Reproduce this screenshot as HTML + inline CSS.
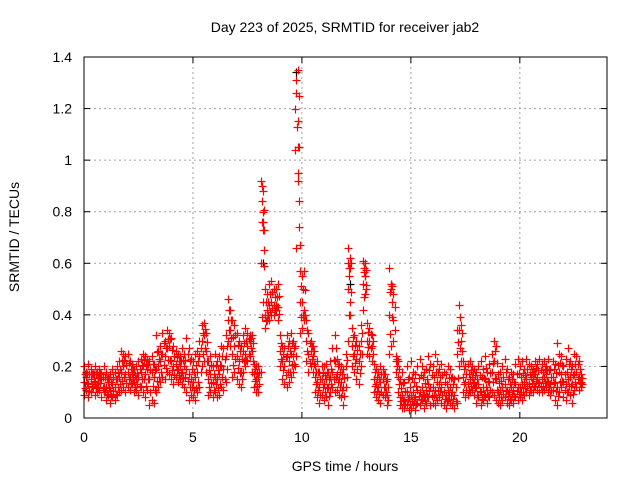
<!DOCTYPE html>
<html><head><meta charset="utf-8"><style>
body{margin:0;background:#fff}
svg{display:block;font-family:"Liberation Sans",sans-serif}
</style></head><body>
<svg id="chart" width="640" height="480" viewBox="0 0 640 480">
<rect width="640" height="480" fill="#fff"/>
<text x="345" y="32" font-size="14" text-anchor="middle">Day 223 of 2025, SRMTID for receiver jab2</text>
<text x="19" y="237" font-size="14" text-anchor="middle" transform="rotate(-90 19 237)">SRMTID / TECUs</text>
<text x="345" y="471" font-size="14" text-anchor="middle">GPS time / hours</text>
<g id="grid"></g>
<g id="marks"></g>
<rect x="84" y="57" width="523" height="361" fill="none" stroke="#000" stroke-width="1"/>
</svg>
<script>
const xTicks=[0,5,10,15,20];
const yTicks=[0,0.2,0.4,0.6,0.8,1,1.2,1.4];
const yTickLabels=["0","0.2","0.4","0.6","0.8","1","1.2","1.4"];
const hours=[0,0.1,0.2,0.3,0.4,0.5,0.6,0.7,0.8,0.9,1,1.1,1.2,1.3,1.4,1.5,1.6,1.7,1.8,1.9,2,2.1,2.2,2.3,2.4,2.5,2.6,2.7,2.8,2.9,3,3.1,3.2,3.3,3.4,3.5,3.6,3.7,3.8,3.9,4,4.1,4.2,4.3,4.4,4.5,4.6,4.7,4.8,4.9,5,5.1,5.2,5.3,5.4,5.5,5.6,5.7,5.8,5.9,6,6.1,6.2,6.3,6.4,6.5,6.6,6.7,6.8,6.9,7,7.1,7.2,7.3,7.4,7.5,7.6,7.7,7.8,7.9,8,8.1,8.2,8.3,8.4,8.5,8.6,8.7,8.8,8.9,9,9.1,9.2,9.3,9.4,9.5,9.6,9.7,9.8,9.9,10,10.1,10.2,10.3,10.4,10.5,10.6,10.7,10.8,10.9,11,11.1,11.2,11.3,11.4,11.5,11.6,11.7,11.8,11.9,12,12.1,12.2,12.3,12.4,12.5,12.6,12.7,12.8,12.9,13,13.1,13.2,13.3,13.4,13.5,13.6,13.7,13.8,13.9,14,14.1,14.2,14.3,14.4,14.5,14.6,14.7,14.8,14.9,15,15.1,15.2,15.3,15.4,15.5,15.6,15.7,15.8,15.9,16,16.1,16.2,16.3,16.4,16.5,16.6,16.7,16.8,16.9,17,17.1,17.2,17.3,17.4,17.5,17.6,17.7,17.8,17.9,18,18.1,18.2,18.3,18.4,18.5,18.6,18.7,18.8,18.9,19,19.1,19.2,19.3,19.4,19.5,19.6,19.7,19.8,19.9,20,20.1,20.2,20.3,20.4,20.5,20.6,20.7,20.8,20.9,21,21.1,21.2,21.3,21.4,21.5,21.6,21.7,21.8,21.9,22,22.1,22.2,22.3,22.4,22.5,22.6,22.7,22.8];
const lowVals=[.09,.11,.08,.10,.12,.09,.10,.11,.08,.10,.07,.09,.06,.08,.07,.09,.10,.11,.12,.10,.12,.11,.13,.10,.11,.09,.12,.10,.08,.11,.05,.07,.06,.10,.12,.14,.16,.15,.18,.17,.15,.13,.16,.14,.15,.13,.12,.10,.07,.09,.08,.07,.10,.12,.20,.22,.18,.09,.10,.08,.10,.08,.09,.12,.11,.14,.30,.28,.16,.18,.15,.13,.12,.18,.20,.22,.24,.18,.12,.10,.10,.18,.45,.35,.38,.38,.40,.40,.42,.38,.20,.15,.13,.12,.14,.16,.18,.20,.95,.33,.35,.38,.22,.18,.20,.18,.10,.08,.06,.09,.07,.08,.05,.10,.12,.10,.11,.09,.08,.05,.12,.30,.40,.20,.18,.15,.13,.20,.42,.48,.25,.24,.22,.10,.08,.07,.06,.09,.08,.05,.25,.28,.30,.18,.10,.05,.04,.04,.05,.03,.04,.05,.03,.06,.05,.07,.04,.06,.08,.05,.06,.05,.07,.08,.06,.05,.04,.07,.06,.05,.04,.06,.20,.22,.10,.08,.09,.10,.11,.09,.06,.08,.05,.07,.09,.06,.08,.10,.09,.07,.06,.05,.07,.08,.06,.05,.07,.06,.08,.07,.08,.07,.09,.10,.09,.11,.10,.12,.11,.10,.10,.11,.12,.10,.09,.11,.07,.05,.10,.12,.08,.07,.10,.09,.06,.11,.12,.11,.12];
const midVals=[.14,.16,.13,.15,.17,.14,.13,.16,.15,.12,.12,.14,.11,.13,.12,.15,.16,.18,.20,.17,.18,.16,.17,.14,.15,.16,.18,.20,.17,.19,.15,.18,.16,.19,.20,.22,.25,.24,.27,.28,.22,.20,.21,.19,.20,.18,.20,.19,.17,.15,.14,.16,.18,.24,.30,.32,.26,.15,.17,.14,.16,.15,.17,.20,.19,.24,.38,.34,.25,.28,.24,.22,.18,.26,.25,.28,.30,.26,.17,.15,.16,.60,.73,.40,.42,.44,.45,.44,.44,.43,.26,.22,.20,.24,.22,.25,.24,.28,1.15,.45,.45,.42,.30,.25,.26,.24,.16,.14,.12,.15,.13,.15,.12,.16,.18,.22,.17,.15,.14,.12,.20,.50,.58,.28,.25,.23,.22,.30,.52,.55,.30,.30,.28,.15,.13,.12,.14,.15,.12,.09,.40,.50,.38,.22,.16,.08,.09,.07,.10,.08,.09,.10,.08,.11,.10,.12,.09,.11,.13,.12,.12,.11,.14,.13,.12,.10,.09,.11,.12,.10,.09,.25,.34,.30,.16,.14,.13,.15,.16,.14,.12,.13,.10,.12,.15,.11,.14,.18,.22,.15,.10,.11,.12,.13,.11,.10,.12,.11,.13,.12,.12,.13,.14,.15,.13,.16,.15,.17,.16,.14,.15,.16,.17,.14,.13,.16,.14,.12,.18,.17,.14,.13,.15,.16,.13,.17,.18,.16,.14];
const highVals=[.20,.18,.21,.19,.17,.20,.18,.19,.17,.20,.18,.16,.17,.19,.18,.20,.22,.26,.25,.24,.25,.22,.21,.19,.20,.22,.23,.25,.24,.23,.22,.24,.21,.32,.26,.28,.33,.30,.34,.33,.31,.28,.26,.25,.24,.27,.25,.31,.27,.23,.22,.25,.26,.30,.36,.37,.33,.22,.24,.20,.25,.22,.24,.28,.27,.32,.46,.42,.38,.36,.33,.30,.28,.32,.35,.33,.32,.32,.21,.20,.20,.92,.88,.50,.48,.52,.53,.50,.50,.52,.32,.28,.27,.32,.30,.33,.30,1.04,1.35,.57,.55,.57,.38,.33,.30,.28,.20,.22,.18,.20,.20,.21,.18,.22,.27,.32,.23,.21,.20,.19,.25,.66,.62,.35,.32,.30,.28,.36,.61,.60,.37,.35,.32,.21,.19,.18,.20,.19,.17,.15,.58,.52,.48,.24,.22,.15,.18,.14,.20,.16,.22,.18,.17,.20,.23,.20,.18,.19,.24,.21,.20,.25,.22,.19,.21,.18,.17,.20,.19,.16,.15,.34,.44,.36,.22,.20,.21,.22,.20,.19,.18,.20,.22,.19,.24,.18,.21,.25,.30,.28,.17,.18,.20,.23,.19,.16,.18,.17,.21,.23,.20,.22,.19,.23,.21,.20,.19,.22,.21,.23,.21,.22,.20,.23,.19,.22,.21,.29,.25,.24,.20,.23,.27,.22,.20,.25,.24,.22,.17];
const spikeHours=[9.7,9.72,9.75,9.78,9.8,9.82,9.85,9.88,9.9,8.15,8.18,8.2,8.22,8.25,8.28,12.1,12.15,12.2,12.85,12.9,12.95,14.1,14.15];
const spikeVals=[1.2,1.26,1.31,1.13,1.05,0.92,0.84,0.74,0.67,0.9,0.84,0.8,0.76,0.73,0.65,0.6,0.55,0.45,0.58,0.55,0.5,0.52,0.45];
const blackHours=[9.75,8.2,12.2];
const blackVals=[1.34,0.6,0.52];

const L=84,R=607,T=57,B=418,XMAX=24,YMAX=1.4;
const xs=h=>L+h/XMAX*(R-L);
const ys=v=>B-v/YMAX*(B-T);
const NS="http://www.w3.org/2000/svg";
const grid=document.getElementById('grid'),marks=document.getElementById('marks');
function mk(tag,attrs,parent){const e=document.createElementNS(NS,tag);for(const k in attrs)e.setAttribute(k,attrs[k]);parent.appendChild(e);return e;}
xTicks.forEach(t=>{
  const x=xs(t);
  if(t>0){const g=mk('line',{x1:x,y1:T,x2:x,y2:B,stroke:'#a0a0a0','stroke-dasharray':'2,3'},grid);
  
  }
  mk('line',{x1:x,y1:B,x2:x,y2:B-6,stroke:'#000'},grid);
  mk('line',{x1:x,y1:T,x2:x,y2:T+6,stroke:'#000'},grid);
  const tx=mk('text',{x:x,y:B+24,'font-size':14,'text-anchor':'middle'},grid);tx.textContent=t;
  
  
});
yTicks.forEach((t,i)=>{
  const y=ys(t);
  if(t>0&&t<YMAX){const g=mk('line',{x1:L,y1:y,x2:R,y2:y,stroke:'#a0a0a0','stroke-dasharray':'2,3'},grid);
  
  }
  mk('line',{x1:L,y1:y,x2:L+6,y2:y,stroke:'#000'},grid);
  mk('line',{x1:R,y1:y,x2:R-6,y2:y,stroke:'#000'},grid);
  const tx=mk('text',{x:L-12,y:y+5,'font-size':14,'text-anchor':'end'},grid);tx.textContent=yTickLabels[i];
  
  
});
function plus(h,v,color){
  const x=Math.round(xs(h))+0.5,y=Math.round(ys(v))+0.5;
  const p=mk('path',{d:`M${x-4} ${y}h8M${x} ${y-4}v8`,stroke:color,'stroke-width':1.2,fill:'none'},marks);
  
  
}
blackHours.forEach((h,i)=>plus(h,blackVals[i],'#000'));
hours.forEach((h,i)=>{
  plus(h,lowVals[i],'#f00');
  plus(h+0.05,(lowVals[i]+midVals[i])/2,'#f00');
  plus(h,midVals[i],'#f00');
  plus(h+0.05,(midVals[i]+highVals[i])/2,'#f00');
  plus(h,highVals[i],'#f00');
});
spikeHours.forEach((h,i)=>plus(h,spikeVals[i],'#f00'));
</script>
</body></html>
